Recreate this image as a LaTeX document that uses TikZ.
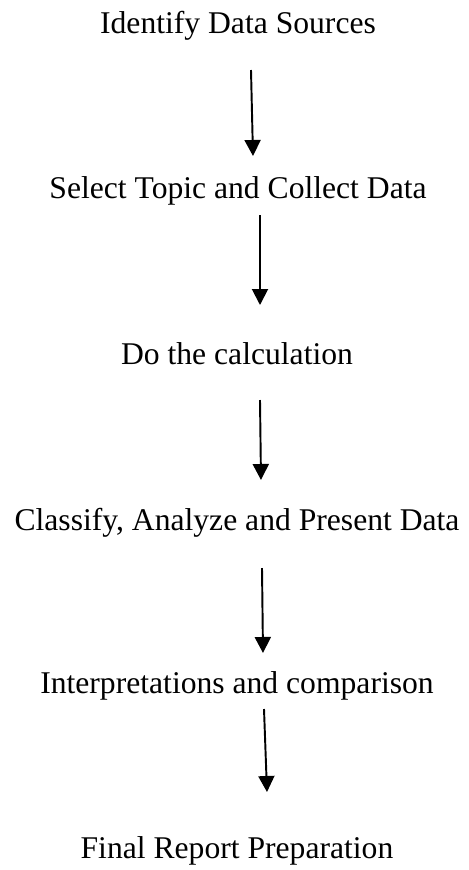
\documentclass[tikz,border=0pt]{standalone}
\usepackage{fontspec}
\setmainfont{Liberation Serif}
\usepackage{tikz}
\usetikzlibrary{arrows.meta, positioning}
\tikzset{
  stage/.style={inner sep=0pt, anchor=base, font=\fontsize{18}{21.6}\selectfont},
  arrow/.style={-{Triangle[width=0.32cm, length=0.32cm]}, line width=1.1pt, color=black}
}

\begin{document}
\begin{tikzpicture}[x=0.02cm, y=-0.02cm]
  \useasboundingbox (0,0) rectangle (469,870);

  % Stages
  \node[stage] (sources)  at (238,33)  {Identify Data Sources};
  \node[stage] (collect)  at (238,198) {Select Topic and Collect Data};
  \node[stage] (calc)     at (237,364) {Do the calculation};
  \node[stage] (classify) at (237,530) {Classify, Analyze and Present Data};
  \node[stage] (interp)   at (237,693) {Interpretations and comparison};
  \node[stage] (report)   at (237,858) {Final Report Preparation};

  % Arrows
  \draw[arrow] ([shift={(13,37)}]sources.base)  -- ([shift={(15,-42)}]collect.base);
  \draw[arrow] ([shift={(22,17)}]collect.base)  -- ([shift={(23,-59)}]calc.base);
  \draw[arrow] ([shift={(23,36)}]calc.base)     -- ([shift={(24,-50)}]classify.base);
  \draw[arrow] ([shift={(25,38)}]classify.base) -- ([shift={(26,-40)}]interp.base);
  \draw[arrow] ([shift={(27,16)}]interp.base)   -- ([shift={(30,-66)}]report.base);
\end{tikzpicture}
\end{document}
